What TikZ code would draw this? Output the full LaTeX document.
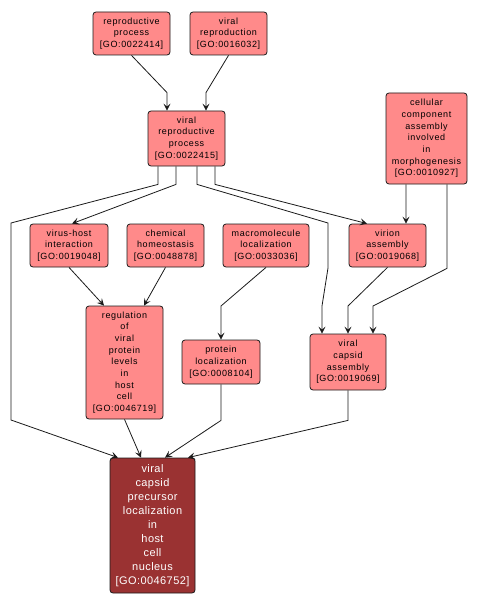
\documentclass[tikz,border=0pt]{standalone}
\usepackage{fontspec}
\setmainfont{Liberation Sans}
\usetikzlibrary{arrows.meta,calc}
\definecolor{Term}{HTML}{FF8A8A}
\definecolor{Focus}{HTML}{9A3232}
\definecolor{Edge}{HTML}{1A1A1A}

\begin{document}
\begin{tikzpicture}[x=1bp,y=-1bp,
    term/.style={rounded corners=3bp,draw=Edge,line width=0.8bp,fill=Term,
      inner sep=0pt,align=center,
      font=\fontsize{9bp}{11.7bp}\selectfont\addfontfeature{LetterSpace=7}},
    focus/.style={term,fill=Focus,text=white,
      font=\fontsize{11bp}{14bp}\selectfont\addfontfeature{LetterSpace=4}},
    arr/.style={-{Stealth[length=7bp,width=7bp,inset=3bp]},line width=0.8bp,Edge}
  ]
    \useasboundingbox (0,0) rectangle (477,607);
    \node[term,minimum width=77bp,minimum height=43bp] (repro) at (131.5,33.5)
      {reproductive\\process\\{[}GO:0022414{]}};
    \node[term,minimum width=77bp,minimum height=43bp] (vrep) at (228.5,33.5)
      {viral\\reproduction\\{[}GO:0016032{]}};
    \node[term,minimum width=77bp,minimum height=55bp] (vrp) at (186.5,138.5)
      {viral\\reproductive\\process\\{[}GO:0022415{]}};
    \node[term,minimum width=81bp,minimum height=91bp] (ccam) at (426.5,138.5)
      {cellular\\component\\assembly\\involved\\in\\morphogenesis\\{[}GO:0010927{]}};
    \node[term,minimum width=78bp,minimum height=43bp] (vhi) at (69,245.5)
      {virus-host\\interaction\\{[}GO:0019048{]}};
    \node[term,minimum width=77bp,minimum height=43bp] (chem) at (165.5,245.5)
      {chemical\\homeostasis\\{[}GO:0048878{]}};
    \node[term,minimum width=86bp,minimum height=43bp] (mloc) at (266,245.5)
      {macromolecule\\localization\\{[}GO:0033036{]}};
    \node[term,minimum width=77bp,minimum height=43bp] (vasm) at (387.5,245.5)
      {virion\\assembly\\{[}GO:0019068{]}};
    \node[term,minimum width=77bp,minimum height=113bp] (reg) at (124.5,362.5)
      {regulation\\of\\viral\\protein\\levels\\in\\host\\cell\\{[}GO:0046719{]}};
    \node[term,minimum width=78bp,minimum height=44bp] (ploc) at (221,362)
      {protein\\localization\\{[}GO:0008104{]}};
    \node[term,minimum width=76bp,minimum height=56bp] (vcap) at (348,362)
      {viral\\capsid\\assembly\\{[}GO:0019069{]}};
    \node[focus,minimum width=85bp,minimum height=135bp] (vcpl) at (152.5,525.5)
      {viral\\capsid\\precursor\\localization\\in\\host\\cell\\nucleus\\{[}GO:0046752{]}};
    % parents of viral reproductive process
    \draw[arr] (repro.south) -- ([xshift=-19.5bp,yshift=18bp]vrp.north) -- ([xshift=-19.5bp]vrp.north);
    \draw[arr] (vrep.south) -- ([xshift=19.5bp,yshift=18bp]vrp.north) -- ([xshift=19.5bp]vrp.north);
    % out of viral reproductive process
    \draw[arr] ([xshift=-28.5bp]vrp.south) -- ++(0,18) -- (11,223) -- (11,420) -- ([xshift=-34.5bp]vcpl.north);
    \draw[arr] ([xshift=-10.5bp]vrp.south) -- ++(0,18) -- ([xshift=3bp]vhi.north);
    \draw[arr] ([xshift=10.5bp]vrp.south) -- ++(0,18) -- (328,223) -- (328,268) -- (322,306) -- ([xshift=-26bp]vcap.north);
    \draw[arr] ([xshift=28.5bp]vrp.south) -- ++(0,18) -- ([xshift=-20.5bp]vasm.north);
    % out of cellular component assembly
    \draw[arr] ([xshift=-20.5bp]ccam.south) -- ([xshift=18.5bp]vasm.north);
    \draw[arr] ([xshift=20.5bp]ccam.south) -- ++(0,84) -- (373,306) -- ([xshift=25bp]vcap.north);
    % middle row
    \draw[arr] (vhi.south) -- ([xshift=-20.5bp]reg.north);
    \draw[arr] (chem.south) -- ([xshift=19.5bp]reg.north);
    \draw[arr] (mloc.south) -- (221,306) -- (ploc.north);
    \draw[arr] (vasm.south) -- (348,306) -- (vcap.north);
    % into the focus term
    \draw[arr] (reg.south) -- ([xshift=-11.5bp]vcpl.north);
    \draw[arr] (ploc.south) -- ++(0,36) -- ([xshift=12.5bp]vcpl.north);
    \draw[arr] (vcap.south) -- ++(0,30) -- ([xshift=35.5bp]vcpl.north);
  \end{tikzpicture}
\end{document}
